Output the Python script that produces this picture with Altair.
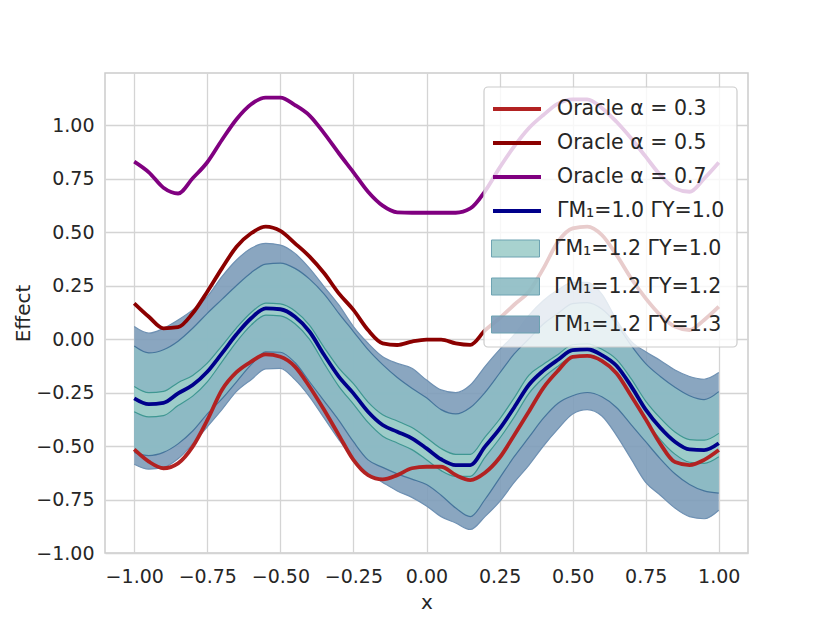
import altair as alt
import pandas as pd

# ---------------- data ----------------
x_vals = [-1.00, -0.95, -0.90, -0.85, -0.80, -0.75, -0.70, -0.65, -0.60, -0.55,
          -0.50, -0.45, -0.40, -0.35, -0.30, -0.25, -0.20, -0.15, -0.10, -0.05,
          0.00, 0.05, 0.10, 0.15, 0.20, 0.25, 0.30, 0.35, 0.40, 0.45,
          0.50, 0.55, 0.60, 0.65, 0.70, 0.75, 0.80, 0.85, 0.90, 0.95, 1.00]

oracle_03 = [-0.516, -0.573, -0.604, -0.581, -0.503, -0.379, -0.238, -0.155, -0.106, -0.072,
             -0.083, -0.129, -0.223, -0.332, -0.449, -0.565, -0.636, -0.656, -0.636, -0.604,
             -0.597, -0.597, -0.636, -0.659, -0.625, -0.555, -0.450, -0.340, -0.228, -0.148,
             -0.083, -0.079, -0.102, -0.160, -0.265, -0.375, -0.490, -0.575, -0.589, -0.565, -0.519]

oracle_05 = [0.167, 0.104, 0.050, 0.055, 0.120, 0.221, 0.330, 0.431, 0.494, 0.525,
             0.505, 0.447, 0.385, 0.307, 0.213, 0.136, 0.042, -0.020, -0.028, -0.012,
             -0.003, -0.003, -0.020, -0.027, 0.040, 0.097, 0.160, 0.221, 0.330, 0.455,
             0.517, 0.525, 0.486, 0.393, 0.284, 0.190, 0.112, 0.058, 0.042, 0.089, 0.151]

oracle_07 = [0.829, 0.779, 0.707, 0.680, 0.751, 0.826, 0.930, 1.027, 1.097, 1.128,
             1.128, 1.093, 1.044, 0.961, 0.868, 0.779, 0.688, 0.623, 0.592, 0.590,
             0.590, 0.590, 0.590, 0.610, 0.690, 0.800, 0.900, 0.985, 1.047, 1.100,
             1.120, 1.120, 1.080, 1.015, 0.938, 0.852, 0.766, 0.704, 0.688, 0.750, 0.825]

gamma_10_10 = [-0.277, -0.304, -0.298, -0.254, -0.215, -0.153, -0.067, 0.022, 0.097, 0.143,
               0.139, 0.104, 0.034, -0.075, -0.176, -0.254, -0.340, -0.402, -0.433, -0.464,
               -0.511, -0.562, -0.589, -0.589, -0.503, -0.420, -0.320, -0.215, -0.148, -0.097,
               -0.052, -0.048, -0.075, -0.125, -0.220, -0.330, -0.415, -0.480, -0.516, -0.519, -0.487]

# band Gamma_M1=1.2 Gamma_Y=1.0 (inner)
band_12_10_hi = [-0.222, -0.251, -0.245, -0.204, -0.170, -0.113, -0.032, 0.052, 0.124, 0.168,
                 0.164, 0.131, 0.064, -0.040, -0.136, -0.209, -0.295, -0.354, -0.383, -0.414,
                 -0.461, -0.512, -0.539, -0.539, -0.458, -0.375, -0.275, -0.170, -0.118, -0.072,
                 -0.027, -0.023, -0.048, -0.095, -0.185, -0.290, -0.370, -0.435, -0.470, -0.473, -0.441]
band_12_10_lo = [-0.340, -0.364, -0.358, -0.311, -0.267, -0.200, -0.107, -0.013, 0.065, 0.112,
                 0.108, 0.071, -0.002, -0.115, -0.221, -0.304, -0.390, -0.454, -0.486, -0.517,
                 -0.564, -0.615, -0.642, -0.642, -0.553, -0.465, -0.365, -0.255, -0.181, -0.127,
                 -0.082, -0.078, -0.107, -0.161, -0.262, -0.378, -0.470, -0.538, -0.576, -0.581, -0.550]

# band Gamma_M1=1.2 Gamma_Y=1.2 (middle)
band_12_12_hi = [-0.033, -0.065, -0.050, -0.010, 0.050, 0.120, 0.185, 0.250, 0.310, 0.350,
                 0.355, 0.330, 0.280, 0.210, 0.120, 0.035, -0.050, -0.120, -0.180, -0.230,
                 -0.275, -0.330, -0.350, -0.320, -0.250, -0.160, -0.070, 0.000, 0.070, 0.120,
                 0.165, 0.170, 0.140, 0.070, -0.030, -0.115, -0.175, -0.225, -0.265, -0.283, -0.246]
band_12_12_lo = [-0.530, -0.545, -0.530, -0.490, -0.430, -0.350, -0.280, -0.200, -0.120, -0.060,
                 -0.062, -0.110, -0.200, -0.290, -0.380, -0.480, -0.565, -0.600, -0.630, -0.655,
                 -0.680, -0.730, -0.790, -0.830, -0.750, -0.650, -0.550, -0.460, -0.370, -0.300,
                 -0.265, -0.250, -0.270, -0.320, -0.400, -0.480, -0.560, -0.630, -0.680, -0.710, -0.720]

# band Gamma_M1=1.2 Gamma_Y=1.3 (outer)
band_12_13_hi = [0.058, 0.027, 0.050, 0.089, 0.136, 0.198, 0.291, 0.369, 0.424, 0.447,
                 0.439, 0.400, 0.330, 0.244, 0.159, 0.058, -0.020, -0.083, -0.114, -0.137,
                 -0.192, -0.238, -0.251, -0.215, -0.129, -0.050, 0.020, 0.110, 0.180, 0.230,
                 0.265, 0.265, 0.210, 0.090, -0.010, -0.060, -0.100, -0.145, -0.175, -0.188, -0.157]
band_12_13_lo = [-0.585, -0.608, -0.600, -0.560, -0.490, -0.410, -0.330, -0.245, -0.190, -0.140,
                 -0.137, -0.190, -0.270, -0.370, -0.470, -0.560, -0.628, -0.670, -0.710, -0.740,
                 -0.780, -0.830, -0.860, -0.890, -0.830, -0.760, -0.670, -0.590, -0.500, -0.420,
                 -0.350, -0.330, -0.360, -0.450, -0.560, -0.670, -0.730, -0.790, -0.830, -0.840, -0.800]

line_names = ["Oracle α = 0.3", "Oracle α = 0.5", "Oracle α = 0.7", "ΓM₁=1.0 ΓY=1.0"]
line_colors = ["#b22222", "#8b0000", "#800080", "#00008b"]
line_widths = [3.8, 3.8, 3.8, 2.8]

band_names = ["ΓM₁=1.2 ΓY=1.0", "ΓM₁=1.2 ΓY=1.2", "ΓM₁=1.2 ΓY=1.3"]
band_colors = ["#9fceca", "#8dbcc4", "#7d9cb9"]
band_edge_colors = ["#3f9792", "#46759c", "#6f91b3"]

x_ticks = [-1.0, -0.75, -0.5, -0.25, 0.0, 0.25, 0.5, 0.75, 1.0]
y_ticks = [-1.0, -0.75, -0.5, -0.25, 0.0, 0.25, 0.5, 0.75, 1.0]

# ---------------- tables ----------------
line_df = pd.concat(
    [pd.DataFrame({"x": x_vals, "y": v, "series": n})
     for n, v in zip(line_names, [oracle_03, oracle_05, oracle_07, gamma_10_10])],
    ignore_index=True)

band_lo = [band_12_10_lo, band_12_12_lo, band_12_13_lo]
band_hi = [band_12_10_hi, band_12_12_hi, band_12_13_hi]
band_df = pd.concat(
    [pd.DataFrame({"x": x_vals, "lo": lo, "hi": hi, "band": n})
     for n, lo, hi in zip(band_names, band_lo, band_hi)],
    ignore_index=True)
edge_df = pd.concat(
    [pd.DataFrame({"x": x_vals * 2, "y": lo + hi,
                   "edge": ["lo"] * len(x_vals) + ["hi"] * len(x_vals), "band": n})
     for n, lo, hi in zip(band_names, band_lo, band_hi)],
    ignore_index=True)

FONT = "DejaVu Sans"
TXT = "#262626"
INTERP = "monotone"

x_scale = alt.Scale(domain=[-1.1, 1.1], nice=False, zero=False)
y_scale = alt.Scale(domain=[-1.0, 1.243], nice=False, zero=False)
x_axis = alt.Axis(values=x_ticks, format=".2f", title="x", labelPadding=14, titlePadding=6)
y_axis = alt.Axis(values=y_ticks, format=".2f", title="Effect", labelPadding=11, titlePadding=2)

legend_lines = alt.Legend(
    title=None, orient="none", legendX=400, legendY=24,
    symbolType="M-2.4,0H2.4", symbolSize=400, symbolStrokeWidth=3.4,
    labelFont=FONT, labelFontSize=20.5, labelColor=TXT, labelOffset=28, labelLimit=400,
    rowPadding=11, padding=0)

legend_bands = alt.Legend(
    title=None, orient="none", legendX=400, legendY=165,
    symbolType="M-2.4,-0.85H2.4V0.85H-2.4Z", symbolSize=400,
    symbolStrokeWidth=1, symbolStrokeColor="#5f9aaa",
    labelFont=FONT, labelFontSize=20.5, labelColor=TXT, labelOffset=28, labelLimit=400,
    rowPadding=17, padding=0)

fill_enc = alt.Fill("band:N", scale=alt.Scale(domain=band_names, range=band_colors),
                    legend=legend_bands)

layers = []
# bands: outer first, inner last
for idx in [2, 1, 0]:
    name = band_names[idx]
    area = alt.Chart(band_df).transform_filter(alt.datum.band == name).mark_area(
        opacity=0.9, interpolate=INTERP).encode(
        x=alt.X("x:Q", scale=x_scale, axis=x_axis),
        y=alt.Y("lo:Q", scale=y_scale, axis=y_axis),
        y2="hi:Q",
        fill=fill_enc)
    edges = alt.Chart(edge_df).transform_filter(alt.datum.band == name).mark_line(
        strokeWidth=1.2, color=band_edge_colors[idx], interpolate=INTERP).encode(
        x=alt.X("x:Q", scale=x_scale, axis=x_axis),
        y=alt.Y("y:Q", scale=y_scale, axis=y_axis),
        detail="edge:N")
    layers += [area, edges]

lines = alt.Chart(line_df).mark_line(interpolate=INTERP).encode(
    x=alt.X("x:Q", scale=x_scale, axis=x_axis),
    y=alt.Y("y:Q", scale=y_scale, axis=y_axis),
    stroke=alt.Stroke("series:N", scale=alt.Scale(domain=line_names, range=line_colors),
                      legend=legend_lines),
    strokeWidth=alt.StrokeWidth("series:N",
                                scale=alt.Scale(domain=line_names, range=line_widths),
                                legend=None),
    order=alt.Order("x:Q"))
layers.append(lines)

# legend frame (decoration behind the legend entries)
frame = alt.Chart(pd.DataFrame({"k": [0]})).mark_rect(
    fill="white", fillOpacity=0.8, stroke="#cccccc", strokeWidth=1.2, cornerRadius=4
).encode(x=alt.value(379), x2=alt.value(632), y=alt.value(14), y2=alt.value(274))
layers.append(frame)

chart = alt.layer(*layers).properties(
    width=643, height=480,
    padding={"left": 5, "top": 65, "right": 10, "bottom": 5},
).configure_view(
    stroke="#cccccc", strokeWidth=1.5
).configure_axis(
    grid=True, gridColor="#d4d4d4", gridWidth=1.3, domain=False, ticks=False,
    labelFont=FONT, labelFontSize=19, labelColor=TXT,
    titleFont=FONT, titleFontSize=20, titleColor=TXT, titleFontWeight="normal"
).configure_legend(
    labelFont=FONT
)

chart.save("out.html", embed_options={"renderer": "svg", "actions": False})
